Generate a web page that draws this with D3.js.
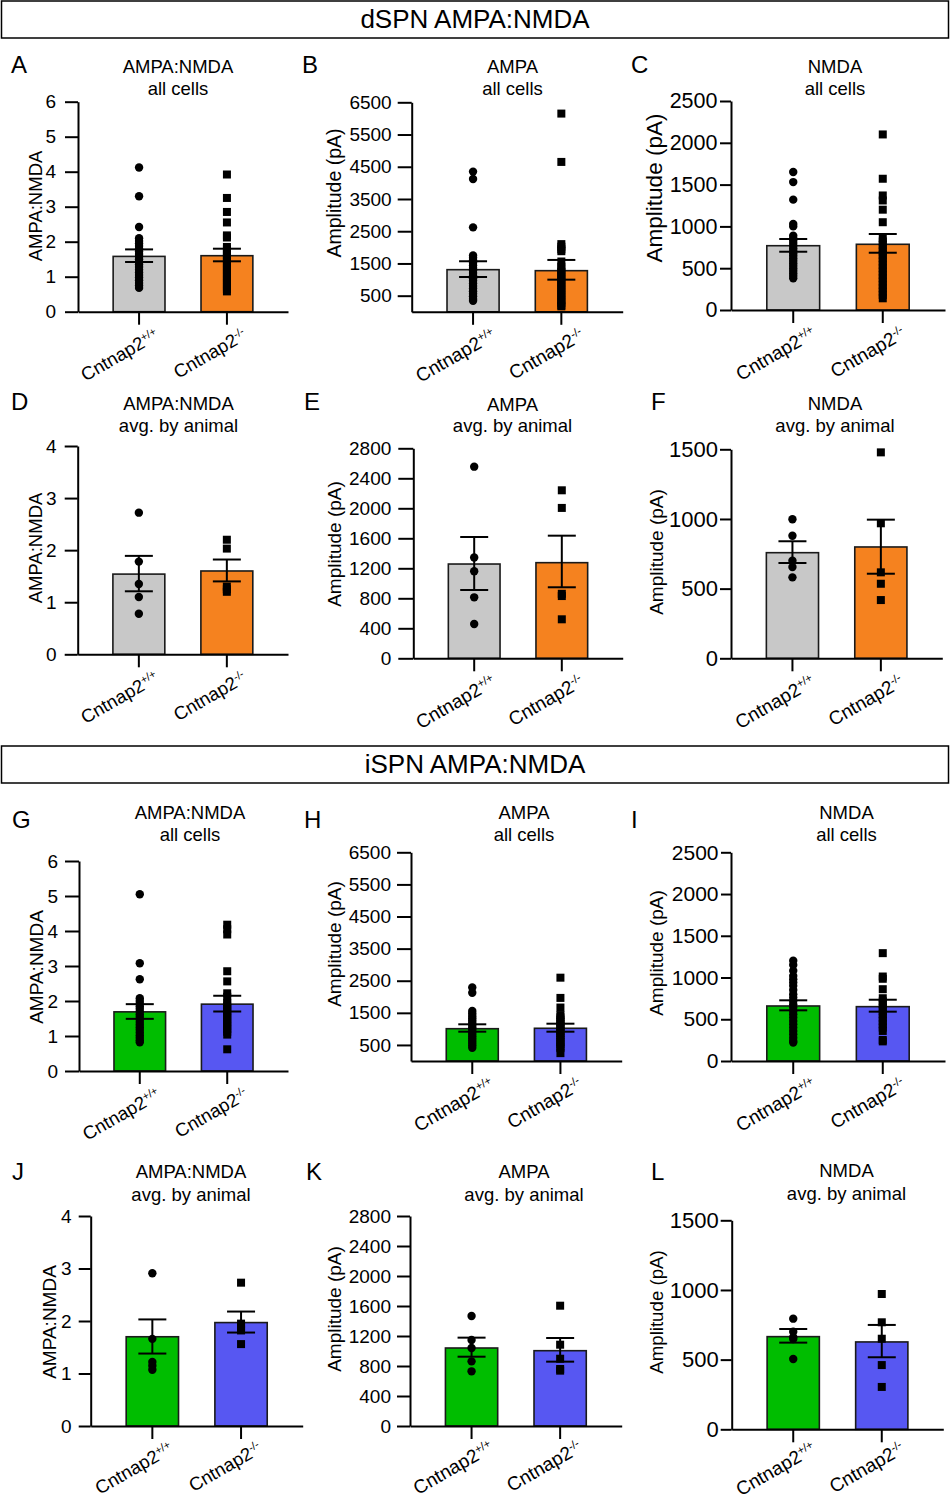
<!DOCTYPE html>
<html>
<head>
<meta charset="utf-8">
<script src="https://cdn.jsdelivr.net/npm/d3@7"></script>
<style>
  body { margin: 0; background: #fff; }
  svg { font-family: "Liberation Sans", Arial, sans-serif; }
</style>
</head>
<body>
<svg id="fig" width="951" height="1500"></svg>
<script>
// genotypes
const groups = ["Cntnap2", "Cntnap2"];
const supers = ["+/+", "-/-"];

// tick labels
const ticksRatio6 = [0, 1, 2, 3, 4, 5, 6];
const ticksRatio4 = [0, 1, 2, 3, 4];
const ticksAmpaCells = [500, 1500, 2500, 3500, 4500, 5500, 6500];
const ticksNmdaCells = [0, 500, 1000, 1500, 2000, 2500];
const ticksAmpaAnimal = [0, 400, 800, 1200, 1600, 2000, 2400, 2800];
const ticksNmdaAnimal = [0, 500, 1000, 1500];

// A: dSPN AMPA:NMDA, all cells
const meanA = [1.58, 1.60];
const semA = [[1.42, 1.78], [1.44, 1.80]];
const wtA = [4.12, 3.30, 2.42, 2.10, 2.02, 1.95, 1.88, 1.80, 1.72, 1.65, 1.58, 1.50, 1.42, 1.35, 1.28, 1.20, 1.12, 1.05, 0.98, 0.90, 0.82, 0.75, 0.68];
const koA = [3.92, 3.25, 2.85, 2.55, 2.18, 2.12, 1.85, 1.78, 1.70, 1.62, 1.55, 1.48, 1.40, 1.32, 1.25, 1.18, 1.10, 1.02, 0.95, 0.88, 0.80, 0.72, 0.65, 0.58];

// B: dSPN AMPA, all cells
const meanB = [1307, 1276];
const semB = [[1080, 1568], [997, 1609]];
const wtB = [4350, 4120, 2620, 1750, 1680, 1600, 1520, 1440, 1360, 1280, 1200, 1120, 1040, 960, 880, 800, 720, 640, 560, 480, 400, 340];
const koB = [6150, 4650, 2100, 2020, 1940, 1880, 1560, 1400, 1320, 1240, 1160, 1080, 1000, 920, 840, 760, 680, 600, 520, 440, 360, 280, 200, 170];

// C: dSPN NMDA, all cells
const meanC = [769, 786];
const semC = [[697, 849], [685, 909]];
const wtC = [1650, 1530, 1320, 1030, 1000, 890, 860, 830, 800, 770, 740, 710, 680, 650, 620, 590, 560, 530, 500, 470, 440, 410, 380];
const koC = [2100, 1570, 1370, 1310, 1200, 1050, 860, 820, 780, 740, 700, 660, 620, 580, 540, 500, 460, 420, 380, 340, 300, 260, 220, 180, 140];

// D: dSPN AMPA:NMDA, avg. by animal
const meanD = [1.54, 1.60];
const semD = [[1.21, 1.89], [1.40, 1.82]];
const wtD = [2.72, 1.78, 1.35, 1.10, 0.78];
const koD = [2.20, 2.03, 1.30, 1.25, 1.20];

// E: dSPN AMPA, avg. by animal
const meanE = [1257, 1275];
const semE = [[911, 1617], [947, 1635]];
const wtE = [2555, 1345, 1160, 813, 457];
const koE = [2240, 2005, 860, 830, 520];

// F: dSPN NMDA, avg. by animal
const meanF = [758, 799];
const semF = [[684, 840], [607, 995]];
const wtF = [998, 880, 700, 655, 581];
const koF = [1478, 969, 617, 535, 418];

// G: iSPN AMPA:NMDA, all cells
const meanG = [1.69, 1.91];
const semG = [[1.49, 1.91], [1.70, 2.15]];
const wtG = [5.05, 3.08, 2.62, 2.08, 2.00, 1.92, 1.85, 1.78, 1.70, 1.62, 1.55, 1.48, 1.40, 1.32, 1.25, 1.18, 1.10, 1.02, 0.95, 0.88, 0.82];
const koG = [4.18, 4.05, 3.90, 2.85, 2.56, 2.22, 2.12, 1.95, 1.88, 1.80, 1.72, 1.65, 1.58, 1.50, 1.42, 1.35, 1.28, 1.20, 1.12, 1.04, 0.62];

// H: iSPN AMPA, all cells
const meanH = [1006, 1019];
const semH = [[913, 1143], [913, 1162]];
const wtH = [2290, 2125, 1560, 1480, 1400, 1330, 1260, 1190, 1120, 1050, 980, 910, 840, 770, 700, 630, 560, 490, 410];
const koH = [2595, 1965, 1665, 1430, 1360, 1290, 1220, 1150, 1080, 1010, 940, 870, 800, 730, 660, 590, 520, 450, 400, 245];

// I: iSPN NMDA, all cells
const meanI = [659, 651];
const semI = [[607, 727], [591, 734]];
const wtI = [1200, 1150, 1080, 1020, 980, 940, 900, 850, 800, 760, 720, 680, 640, 600, 560, 520, 480, 440, 400, 360, 320, 280, 240, 222];
const koI = [1292, 1012, 985, 860, 752, 715, 680, 640, 600, 560, 520, 480, 440, 400, 360, 252, 235];

// J: iSPN AMPA:NMDA, avg. by animal
const meanJ = [1.70, 1.97];
const semJ = [[1.38, 2.03], [1.78, 2.18]];
const wtJ = [2.91, 1.66, 1.22, 1.15, 1.07];
const koJ = [2.73, 1.95, 1.88, 1.82, 1.56];

// K: iSPN AMPA, avg. by animal
const meanK = [1040, 1004];
const semK = [[924, 1178], [858, 1173]];
const wtK = [1467, 1147, 1040, 862, 729];
const koK = [1604, 1084, 897, 760, 738];

// L: iSPN NMDA, avg. by animal
const meanL = [665, 627];
const semL = [[622, 720], [517, 749]];
const wtL = [794, 700, 660, 648, 505];
const koL = [971, 768, 650, 461, 304];

const dColors = ["#c8c8c8", "#f5821f"];
const iColors = ["#00bd00", "#5757f2"];

// layout of each panel (pixels)
const panels = [
  { id: "A", t1: "AMPA:NMDA", t2: "all cells", yl: "AMPA:NMDA", ticks: ticksRatio6, max: 6, mean: meanA, sem: semA, wt: wtA, ko: koA, col: dColors,
    left: 78, right: 288, top: 101.7, bottom: 311.7, tf: 19, tk: 13, tp: 9, lf: 18.5, xf: 18.5, xd: 21, xy: 27, lx: 42, ly: 206, tx: 178, ty: 73, ty2: 95, px: 11, py: 73 },
  { id: "B", t1: "AMPA", t2: "all cells", yl: "Amplitude (pA)", ticks: ticksAmpaCells, max: 6500, mean: meanB, sem: semB, wt: wtB, ko: koB, col: dColors,
    left: 411.7, right: 622.7, top: 102.3, bottom: 311.8, tf: 19, tk: 14, tp: 6, lf: 19.5, xf: 19, xd: 24, xy: 27, lx: 341, ly: 193, tx: 512.5, ty: 73, ty2: 95, px: 302, py: 73 },
  { id: "C", t1: "NMDA", t2: "all cells", yl: "Amplitude (pA)", ticks: ticksNmdaCells, max: 2500, mean: meanC, sem: semC, wt: wtC, ko: koC, col: dColors,
    left: 731, right: 945, top: 101, bottom: 310, tf: 21.5, tk: 11, tp: 2.5, lf: 22.5, xf: 19, xd: 24, xy: 27, lx: 662, ly: 188, tx: 835, ty: 73, ty2: 95, px: 631, py: 73 },
  { id: "D", t1: "AMPA:NMDA", t2: "avg. by animal", yl: "AMPA:NMDA", ticks: ticksRatio4, max: 4, mean: meanD, sem: semD, wt: wtD, ko: koD, col: dColors,
    left: 77.7, right: 288, top: 446, bottom: 654.3, tf: 19, tk: 13, tp: 8, lf: 18.5, xf: 18.5, xd: 21, xy: 27, lx: 42, ly: 548, tx: 178.5, ty: 410, ty2: 432, px: 11, py: 410 },
  { id: "E", t1: "AMPA", t2: "avg. by animal", yl: "Amplitude (pA)", ticks: ticksAmpaAnimal, max: 2800, mean: meanE, sem: semE, wt: wtE, ko: koE, col: dColors,
    left: 413.3, right: 622.7, top: 448.3, bottom: 658.3, tf: 19, tk: 15, tp: 7, lf: 19, xf: 19, xd: 23, xy: 27, lx: 341, ly: 544, tx: 512.5, ty: 411, ty2: 432, px: 304, py: 410 },
  { id: "F", t1: "NMDA", t2: "avg. by animal", yl: "Amplitude (pA)", ticks: ticksNmdaAnimal, max: 1500, mean: meanF, sem: semF, wt: wtF, ko: koF, col: dColors,
    left: 731, right: 942.3, top: 449.3, bottom: 658.3, tf: 22, tk: 11, tp: 2, lf: 19, xf: 19, xd: 24, xy: 27, lx: 663, ly: 552, tx: 835, ty: 410, ty2: 432, px: 651, py: 410 },
  { id: "G", t1: "AMPA:NMDA", t2: "all cells", yl: "AMPA:NMDA", ticks: ticksRatio6, max: 6, mean: meanG, sem: semG, wt: wtG, ko: koG, col: iColors,
    left: 79, right: 288, top: 861, bottom: 1071, tf: 19, tk: 14, tp: 7, lf: 19, xf: 18.5, xd: 22, xy: 27, lx: 43, ly: 967, tx: 190, ty: 819, ty2: 841, px: 12, py: 828 },
  { id: "H", t1: "AMPA", t2: "all cells", yl: "Amplitude (pA)", ticks: ticksAmpaCells, max: 6500, mean: meanH, sem: semH, wt: wtH, ko: koH, col: iColors,
    left: 411, right: 621.7, top: 852.3, bottom: 1061, tf: 19, tk: 14, tp: 6, lf: 19, xf: 19, xd: 23, xy: 27, lx: 341, ly: 944, tx: 524, ty: 819, ty2: 841, px: 304, py: 828 },
  { id: "I", t1: "NMDA", t2: "all cells", yl: "Amplitude (pA)", ticks: ticksNmdaCells, max: 2500, mean: meanI, sem: semI, wt: wtI, ko: koI, col: iColors,
    left: 731, right: 945, top: 852.3, bottom: 1061, tf: 21, tk: 10, tp: 2.5, lf: 19, xf: 19, xd: 24, xy: 27, lx: 663, ly: 953, tx: 846.5, ty: 819, ty2: 841, px: 631, py: 828 },
  { id: "J", t1: "AMPA:NMDA", t2: "avg. by animal", yl: "AMPA:NMDA", ticks: ticksRatio4, max: 4, mean: meanJ, sem: semJ, wt: wtJ, ko: koJ, col: iColors,
    left: 90.7, right: 302.7, top: 1216, bottom: 1426, tf: 19, tk: 12, tp: 7, lf: 19, xf: 18.5, xd: 22, xy: 26, lx: 56, ly: 1322, tx: 191, ty: 1178, ty2: 1201, px: 12, py: 1180 },
  { id: "K", t1: "AMPA", t2: "avg. by animal", yl: "Amplitude (pA)", ticks: ticksAmpaAnimal, max: 2800, mean: meanK, sem: semK, wt: wtK, ko: koK, col: iColors,
    left: 410, right: 621.7, top: 1216, bottom: 1426, tf: 19, tk: 13, tp: 6, lf: 19, xf: 19, xd: 23, xy: 25, lx: 341, ly: 1309, tx: 524, ty: 1178, ty2: 1201, px: 306, py: 1180 },
  { id: "L", t1: "NMDA", t2: "avg. by animal", yl: "Amplitude (pA)", ticks: ticksNmdaAnimal, max: 1500, mean: meanL, sem: semL, wt: wtL, ko: koL, col: iColors,
    left: 731.7, right: 943.3, top: 1220.3, bottom: 1429.3, tf: 22, tk: 11, tp: 2, lf: 18.7, xf: 19, xd: 24, xy: 23, lx: 663, ly: 1312, tx: 846.5, ty: 1177, ty2: 1200, px: 651, py: 1180 }
];

const svg = d3.select("#fig");

// section headers
const headers = [
  { text: "dSPN AMPA:NMDA", y: 1 },
  { text: "iSPN AMPA:NMDA", y: 746 }
];
headers.forEach(h => {
  svg.append("rect").attr("x", 1.5).attr("y", h.y).attr("width", 947).attr("height", 37)
    .attr("fill", "none").attr("stroke", "#000").attr("stroke-width", 1.5);
  svg.append("text").attr("x", 475).attr("y", h.y + 27).attr("text-anchor", "middle")
    .style("font-size", "26px").text(h.text);
});

panels.forEach(p => {
  const g = svg.append("g");
  const x = d3.scaleBand().domain([0, 1]).range([p.left, p.right]).paddingInner(0.41).paddingOuter(0.4);
  const y = d3.scaleLinear().domain([0, p.max]).range([p.bottom, p.top]);
  const cx = i => x(i) + x.bandwidth() / 2;

  // bars
  g.selectAll("rect.bar").data(p.mean).enter().append("rect")
    .attr("class", "bar")
    .attr("x", (d, i) => x(i))
    .attr("y", d => y(d))
    .attr("width", x.bandwidth())
    .attr("height", d => y(0) - y(d))
    .attr("fill", (d, i) => p.col[i])
    .attr("stroke", "#1a1a1a")
    .attr("stroke-width", 1.6);

  // individual points: circles for +/+, squares for -/-
  g.selectAll("circle.pt").data(p.wt).enter().append("circle")
    .attr("class", "pt")
    .attr("cx", cx(0))
    .attr("cy", d => y(d))
    .attr("r", 4.2)
    .attr("fill", "#000");
  g.selectAll("rect.pt").data(p.ko).enter().append("rect")
    .attr("class", "pt")
    .attr("x", cx(1) - 4)
    .attr("y", d => y(d) - 4)
    .attr("width", 8)
    .attr("height", 8)
    .attr("fill", "#000");

  // SEM error bars
  p.sem.forEach((s, i) => {
    const c = cx(i);
    g.append("line").attr("x1", c).attr("x2", c).attr("y1", y(s[0])).attr("y2", y(s[1]))
      .attr("stroke", "#000").attr("stroke-width", 2);
    s.forEach(v => {
      g.append("line").attr("x1", c - 14).attr("x2", c + 14).attr("y1", y(v)).attr("y2", y(v))
        .attr("stroke", "#000").attr("stroke-width", 2);
    });
  });

  // axes
  const yAxis = g.append("g").attr("transform", `translate(${p.left},0)`)
    .call(d3.axisLeft(y).tickValues(p.ticks).tickSize(p.tk).tickSizeOuter(0).tickPadding(p.tp).tickFormat(d3.format("d")));
  yAxis.selectAll("text").style("font-size", p.tf + "px").attr("fill", "#000");

  const xAxis = g.append("g").attr("transform", `translate(0,${p.bottom})`)
    .call(d3.axisBottom(x).tickSize(13).tickSizeOuter(0).tickFormat(""));

  [yAxis, xAxis].forEach(a => {
    a.select(".domain").attr("stroke", "#000").attr("stroke-width", 2);
    a.selectAll(".tick line").attr("stroke", "#000").attr("stroke-width", 2);
  });

  // rotated group labels
  groups.forEach((name, i) => {
    const t = g.append("text")
      .attr("transform", `translate(${cx(i) + p.xd},${p.bottom + p.xy}) rotate(-30)`)
      .attr("text-anchor", "end")
      .style("font-size", p.xf + "px");
    t.append("tspan").text(name);
    t.append("tspan").attr("dy", "-0.55em").style("font-size", "0.6em").text(supers[i]);
  });

  // y label
  g.append("text")
    .attr("transform", `translate(${p.lx},${p.ly}) rotate(-90)`)
    .attr("text-anchor", "middle")
    .style("font-size", p.lf + "px")
    .text(p.yl);

  // titles
  g.append("text").attr("x", p.tx).attr("y", p.ty).attr("text-anchor", "middle")
    .style("font-size", "18.5px").text(p.t1);
  g.append("text").attr("x", p.tx).attr("y", p.ty2).attr("text-anchor", "middle")
    .style("font-size", "18.5px").text(p.t2);

  // panel letter
  g.append("text").attr("x", p.px).attr("y", p.py)
    .style("font-size", "24px").text(p.id);
});
</script>
</body>
</html>
